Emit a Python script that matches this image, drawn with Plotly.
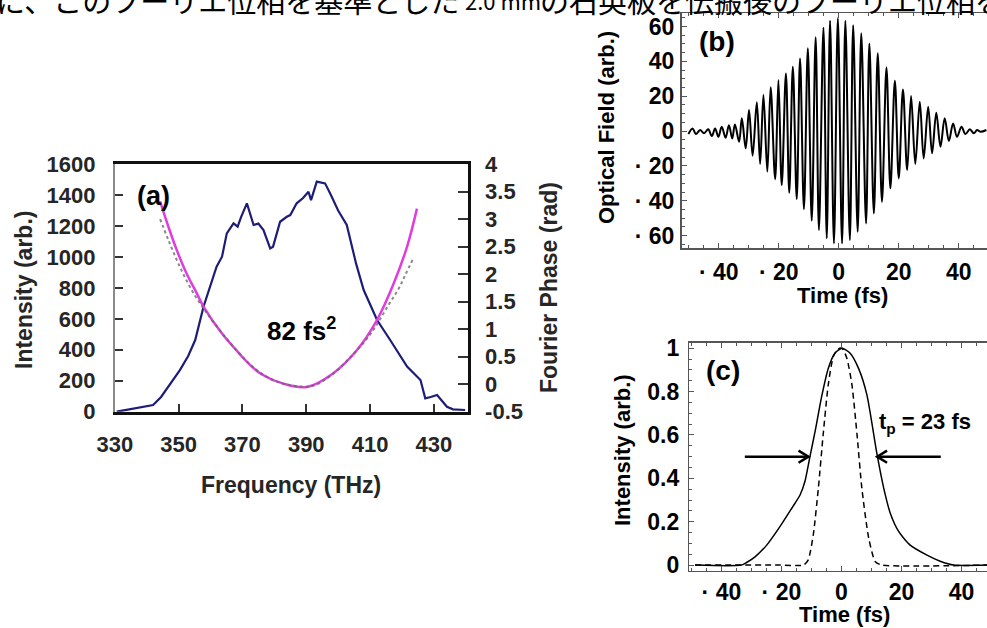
import plotly.graph_objects as go

W, H = 987, 628

# ---------------- Panel (a): spectrum and Fourier phase ----------------
freq_int = [330.6, 336, 342, 344.5, 346.8, 350.4, 353, 355.2, 357.8, 361.9,
            363.6, 365.1, 367.2, 368.5, 369.6, 371.4, 373.5, 375, 376.6, 378.7,
            379.6, 381.8, 383.9, 385, 387, 389, 390.7, 391.5, 393.3, 395.9,
            397.5, 400, 402.7, 405.6, 408, 412.2, 416.3, 421.6, 425.8, 427.3,
            429, 431, 434.1, 436, 439.8]
intensity = [0, 20, 43, 95, 161, 269, 360, 463, 678, 937,
             1001, 1152, 1216, 1195, 1259, 1346, 1206, 1215, 1173, 1055,
             1066, 1227, 1259, 1270, 1346, 1380, 1421, 1367, 1486, 1475,
             1410, 1300, 1206, 958, 786, 592, 463, 291, 205, 86,
             95, 108, 32, 15, 11]

freq_fit = [344.2, 346.8, 349.4, 352.5, 355.7, 357.8, 363.6, 369.6, 372.4, 376,
            382.8, 390.2, 398.5, 405.9, 412.2, 417.4, 421.6, 424.7]
phase_fit = [3.32, 2.86, 2.44, 2.01, 1.65, 1.41, 0.92, 0.52, 0.35, 0.18,
             0.01, -0.05, 0.20, 0.62, 1.17, 1.83, 2.5, 3.19]

freq_meas = [344.2, 346.8, 350.4, 355, 360, 366, 372, 378, 385, 392,
             398, 404, 410, 415.8, 419, 421, 423.6]
phase_meas = [3.0, 2.62, 2.13, 1.62, 1.2, 0.76, 0.38, 0.12, -0.02, -0.03,
              0.17, 0.5, 0.9, 1.44, 1.74, 1.98, 2.29]

freq_ticks = [330, 350, 370, 390, 410, 430]
int_ticks = [0, 200, 400, 600, 800, 1000, 1200, 1400, 1600]
phase_ticks = [-0.5, 0, 0.5, 1, 1.5, 2, 2.5, 3, 3.5, 4]
phase_ticktext = ["-0.5", "0", "0.5", "1", "1.5", "2", "2.5", "3", "3.5", "4"]

# ---------------- Panel (b): optical field (extrema of the oscillation) ----------------
t_field = [-50.1, -48.7, -47.6, -46.2, -44.9, -43.5, -42.3, -41.2, -40.1, -39.0,
           -37.7, -36.6, -35.5, -34.6, -33.2, -32.3, -31.0, -29.9, -28.7, -27.3,
           -26.2, -25.1, -23.8, -22.7, -21.2, -20.1, -19.0, -17.6, -16.5, -15.3,
           -14.0, -12.9, -11.6, -10.3, -9.0, -7.7, -6.6, -5.1, -4.0, -2.9,
           -1.6, -0.3, 1.1, 2.2, 3.7, 4.8, 6.3, 7.5, 9.1, 10.2,
           11.7, 13.0, 14.4, 15.9, 17.2, 18.7, 20.0, 21.4, 22.8, 24.1,
           25.5, 27.0, 28.3, 29.8, 31.1, 32.5, 33.9, 35.3, 36.7, 38.1,
           39.4, 40.9, 42.2, 43.7, 45.0, 46.1, 47.2, 49.2]
field = [-1.7, 1.5, -1.7, 0.6, -1.3, 1.0, -2.9, 1.5, -3.3, 2.5,
         -3.8, 3.4, -4.2, 3.8, -6.1, 7.3, -9.9, 12.1, -14.2, 16.5,
         -18.9, 20.7, -23.3, 25.1, -27.6, 29.3, -31.0, 33.1, -35.4, 36.9,
         -39.0, 41.7, -44.8, 47.5, -51.5, 53.8, -56.8, 59.3, -61.6, 63.3,
         -64.5, 64.7, -64.5, 63.3, -62.6, 60.8, -57.8, 56.1, -53.0, 50.3,
         -47.3, 44.6, -40.6, 36.5, -32.9, 28.9, -27.2, 23.9, -22.4, 20.1,
         -18.9, 16.8, -15.7, 14.0, -12.8, 10.5, -9.0, 7.3, -5.7, 4.4,
         -3.3, 2.5, -1.7, 1.0, -1.3, 0.6, -0.4, 0.6]

time_ticks = [-40, -20, 0, 20, 40]
time_ticktext = ["· 40", "· 20", "0", "20", "40"]
field_ticks = [-60, -40, -20, 0, 20, 40, 60]
field_ticktext = ["· 60", "· 40", "· 20", "0", "20", "40", "60"]

# ---------------- Panel (c): temporal intensity ----------------
t_solid = [-48.8, -33.3, -31.6, -28.8, -24.9, -20.5, -16.6, -13.8, -12.2, -10.5,
           -8.8, -6.6, -4.4, -2.2, 0.2, 2.9, 5.7, 8.5, 11.8, 14.1,
           16.3, 19.1, 22.9, 28.5, 32.9, 37.4, 48.5]
int_solid = [0.0, 0.0, 0.012, 0.038, 0.092, 0.177, 0.261, 0.323, 0.384, 0.5,
             0.615, 0.777, 0.907, 0.977, 1.0, 0.977, 0.907, 0.784, 0.515, 0.354,
             0.238, 0.154, 0.092, 0.046, 0.018, 0.0, 0.0]
t_dash = [-48.8, -20.5, -12.7, -11.1, -9.4, -7.7, -6.1, -4.4, -2.7, -1.1,
          0.2, 1.8, 3.5, 5.2, 6.8, 9.1, 11.3, 13.5, 48.5]
int_dash = [0.0, 0.0, 0.0, 0.023, 0.138, 0.354, 0.6, 0.831, 0.962, 0.997,
            1.0, 0.954, 0.831, 0.6, 0.354, 0.123, 0.015, 0.0, 0.0]
norm_ticks = [0, 0.2, 0.4, 0.6, 0.8, 1]
norm_ticktext = ["0", "0.2", "0.4", "0.6", "0.8", "1"]

half_max = 0.5
fwhm_left, fwhm_right = -11.0, 11.9
arrow_tail_left, arrow_tail_right = -32.2, 33.1

# ---------------- figure ----------------
FAM = "Liberation Sans, Arial, sans-serif"
font_a = dict(family=FAM, size=22, color="#262626", weight="bold")
font_bc = dict(family=FAM, size=23, color="black", weight="bold")


def px_x(p):
    return p / W


def px_y(p):
    return 1 - p / H


fig = go.Figure()

fig.add_trace(go.Scatter(x=freq_int, y=intensity, xaxis="x", yaxis="y", mode="lines",
                         line=dict(color="#1d1d78", width=2.2)))
fig.add_trace(go.Scatter(x=freq_fit, y=phase_fit, xaxis="x", yaxis="y2", mode="lines",
                         line=dict(color="#e03ce0", width=2.5, shape="spline")))
fig.add_trace(go.Scatter(x=freq_meas, y=phase_meas, xaxis="x", yaxis="y2", mode="lines",
                         line=dict(color="#6a6a6a", width=2, dash="dot", shape="spline"),
                         opacity=0.8))

fig.add_trace(go.Scatter(x=t_field, y=field, xaxis="x3", yaxis="y3", mode="lines",
                         line=dict(color="black", width=2, shape="spline")))

fig.add_trace(go.Scatter(x=t_solid, y=int_solid, xaxis="x4", yaxis="y4", mode="lines",
                         line=dict(color="black", width=1.5, shape="spline", smoothing=0.6)))
fig.add_trace(go.Scatter(x=t_dash, y=int_dash, xaxis="x4", yaxis="y4", mode="lines",
                         line=dict(color="black", width=1.5, dash="6px,4px",
                                   shape="spline", smoothing=0.6)))

# FWHM arrows (shaft + open chevron head)
head_len, head_half = 3.3, 0.028
for tail, tip in [(arrow_tail_left, fwhm_left), (arrow_tail_right, fwhm_right)]:
    d = 1 if tip > tail else -1
    fig.add_trace(go.Scatter(
        x=[tail, tip, None, tip - d * head_len, tip, tip - d * head_len],
        y=[half_max, half_max, None, half_max + head_half, half_max, half_max - head_half],
        xaxis="x4", yaxis="y4", mode="lines",
        line=dict(color="black", width=2.5)))

common_ax = dict(showgrid=False, zeroline=False, showline=True, automargin=False)

fig.update_layout(
    width=W, height=H,
    margin=dict(l=0, r=0, t=0, b=0, pad=0, autoexpand=False),
    paper_bgcolor="white", plot_bgcolor="white",
    showlegend=False,
    hovermode=False,
    xaxis=dict(domain=[px_x(114.8), px_x(467.7)], range=[330, 440.6], anchor="y",
               linecolor="#111", linewidth=3, mirror=True,
               ticks="inside", ticklen=8, tickwidth=2, tickcolor="#333",
               tickvals=freq_ticks, tickfont=font_a, ticklabelstandoff=11, **common_ax),
    yaxis=dict(domain=[px_y(411.7), px_y(164)], range=[0, 1600], anchor="x",
               linecolor="#8a8a8a", linewidth=2,
               ticks="inside", ticklen=8, tickwidth=2, tickcolor="#333",
               tickvals=int_ticks, tickfont=font_a, ticklabelstandoff=13, **common_ax),
    yaxis2=dict(overlaying="y", side="right", anchor="x", range=[-0.5, 4],
                linecolor="#111", linewidth=3,
                ticks="inside", ticklen=10, tickwidth=2, tickcolor="#333",
                tickvals=phase_ticks, ticktext=phase_ticktext, tickfont=font_a,
                ticklabelstandoff=10, **common_ax),
    xaxis3=dict(domain=[px_x(681.5), 1], range=[-52.4, 49.4], anchor="y3",
                linecolor="#555", linewidth=1.5, mirror="allticks",
                ticks="inside", ticklen=5, tickwidth=1, tickcolor="#555",
                tickvals=time_ticks, ticktext=time_ticktext, tickfont=font_bc,
                minor=dict(ticks="inside", ticklen=3, dtick=5, tick0=0, tickcolor="#555"),
                ticklabelstandoff=3, **common_ax),
    yaxis3=dict(domain=[px_y(248.3), px_y(13.3)], range=[-67.3, 67.6], anchor="x3",
                linecolor="#555", linewidth=1.5,
                ticks="inside", ticklen=5, tickwidth=1, tickcolor="#555",
                tickvals=field_ticks, ticktext=field_ticktext, tickfont=font_bc,
                minor=dict(ticks="inside", ticklen=3, dtick=5, tick0=0, tickcolor="#555"),
                ticklabelstandoff=1, **common_ax),
    xaxis4=dict(domain=[px_x(689.3), 1], range=[-50.7, 48.5], anchor="y4",
                linecolor="#555", linewidth=1.5, mirror="allticks",
                ticks="inside", ticklen=5, tickwidth=1, tickcolor="#555",
                tickvals=time_ticks, ticktext=time_ticktext, tickfont=font_bc,
                minor=dict(ticks="inside", ticklen=3, dtick=5, tick0=0, tickcolor="#555"),
                ticklabelstandoff=0, **common_ax),
    yaxis4=dict(domain=[px_y(570.5), px_y(342.8)], range=[-0.025, 1.025], anchor="x4",
                linecolor="#555", linewidth=1.5,
                ticks="inside", ticklen=5, tickwidth=1, tickcolor="#555",
                tickvals=norm_ticks, ticktext=norm_ticktext, tickfont=font_bc,
                minor=dict(ticks="inside", ticklen=3, dtick=0.05, tick0=0, tickcolor="#555"),
                ticklabelstandoff=4, **common_ax),
)


def ann(text, x, y, font, angle=0, xanchor="center", yanchor="middle"):
    fig.add_annotation(text=text, x=px_x(x), y=px_y(y), xref="paper", yref="paper",
                       showarrow=False, font=font, textangle=angle,
                       xanchor=xanchor, yanchor=yanchor)


title_a = dict(family=FAM, size=23, color="#262626", weight="bold")
title_bc = dict(family=FAM, size=22, color="black", weight="bold")

# panel (a) texts
ann("Intensity (arb.)", 24, 290, title_a, angle=-90)
ann("Fourier Phase (rad)", 549, 288, title_a, angle=-90)
ann("Frequency (THz)", 291, 485, title_a)
ann("(a)", 153, 196, dict(family=FAM, size=27, color="black", weight="bold"))
ann("82 fs<sup>2</sup>", 301, 329, dict(family=FAM, size=26, color="black", weight="bold"))

# panel (b) texts
ann("Optical Field (arb.)", 607, 128, title_bc, angle=-90)
ann("Time (fs)", 842, 295, title_bc)
ann("(b)", 717, 42, dict(family=FAM, size=28, color="black", weight="bold"))

# panel (c) texts
ann("Intensity (arb.)", 623, 450, title_bc, angle=-90)
ann("Time (fs)", 844, 614, title_bc)
ann("(c)", 723, 370, dict(family=FAM, size=28, color="black", weight="bold"))
ann("t<sub>p</sub> = 23 fs", 925, 423, dict(family=FAM, size=22, color="black", weight="bold"))

# header line of the surrounding Japanese text (cut off at the top)
jp = dict(family="Noto Sans CJK JP", size=29, color="black")
ann("に、このフーリエ位相を基準とした", -6, 0, jp, xanchor="left")
ann("2.0 mm", 463, 0, dict(family="Noto Sans CJK JP", size=22, color="black"), xanchor="left")
ann("の石英板を伝搬後のフーリエ位相を", 538, 0, jp, xanchor="left")

fig.write_html("out.html", config={"displayModeBar": False, "staticPlot": True},
               post_script="document.body.style.margin='0px';")
